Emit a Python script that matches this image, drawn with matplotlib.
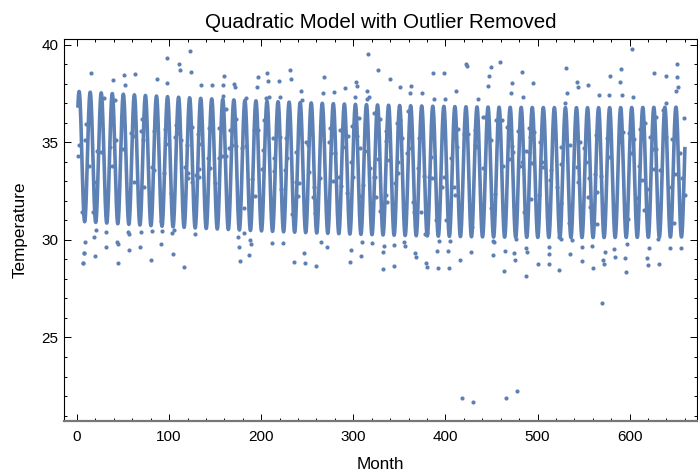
import numpy as np
import matplotlib
matplotlib.use('Agg')
import matplotlib.pyplot as plt
from matplotlib.ticker import MultipleLocator

plt.rcParams['font.family'] = ['Liberation Sans', 'DejaVu Sans']

BLUE = '#5e81b5'

# monthly observations that sit off the fitted curve
month = [
    1, 2, 5, 7, 7, 8, 8, 9, 9, 10, 13, 15, 17, 19, 20, 21, 21, 22, 26, 29,
    31, 32, 36, 38, 39, 41, 42, 43, 44, 45, 50, 51, 52, 55, 56, 56, 59, 62, 63, 63,
    68, 70, 70, 71, 72, 73, 80, 81, 81, 84, 84, 87, 91, 91, 92, 94, 96, 97, 98, 98,
    102, 103, 104, 105, 106, 108, 110, 111, 112, 113, 116, 117, 119, 120, 121, 123, 124, 125, 125, 128,
    129, 131, 132, 133, 133, 135, 142, 143, 144, 147, 150, 154, 154, 157, 158, 159, 160, 162, 162, 165,
    166, 168, 171, 172, 173, 173, 175, 176, 177, 179, 181, 181, 182, 184, 184, 187, 188, 189, 190, 192,
    193, 195, 196, 197, 201, 202, 203, 205, 206, 207, 209, 212, 213, 214,
    214, 219, 220, 220, 222, 224, 226, 227, 228, 231, 232, 233, 235, 236, 238, 238, 240, 241, 243, 244,
    247, 248, 249, 251, 252, 256, 257, 258, 260, 264, 265, 267, 268, 271, 274, 275, 276, 278, 278, 279,
    280, 285, 286, 287, 289, 289, 291, 293, 294, 296, 297, 298, 299, 300, 302, 303, 304, 304, 306, 307,
    307, 308, 309, 310, 315, 315, 315, 316, 317, 318, 320, 322, 323, 324, 325, 327, 327, 329,
    329, 332, 332, 333, 335, 336, 336, 337, 339, 340, 344, 344, 345, 347, 348, 349, 351, 351, 353, 355,
    356, 358, 359, 360, 362, 363, 365, 366, 367, 368, 370, 371, 373, 375, 377, 378, 379, 380, 380, 382,
    384, 385, 387, 388, 390, 391, 392, 393, 396, 398, 399, 400, 401, 403, 404, 405, 406, 409, 410, 412,
    413, 414, 416, 420, 422, 423, 425, 428, 428, 429, 432, 432, 433, 435, 441, 441,
    443, 446, 447, 449, 449, 450, 452, 452, 453, 454, 455, 459, 461, 463, 464, 465, 467, 469, 471, 472,
    472, 473, 474, 475, 476, 477, 479, 481, 483, 483, 484, 485, 487, 487, 488, 489, 491, 491, 492, 493,
    494, 495, 496, 501, 502, 503, 505, 506, 512, 512, 513, 514, 515, 521, 523, 523, 525, 525, 525, 526,
    530, 531, 532, 534, 535, 535, 537, 543, 543, 544, 544, 546, 547, 548, 548, 551, 553, 555, 555,
    556, 557, 559, 560, 562, 563, 565, 565, 567, 569, 571, 572, 573, 575, 578, 578, 579, 583, 584, 588,
    590, 591, 592, 593, 595, 595, 596, 597, 598, 599, 601, 603, 604, 605, 608, 610, 611, 613, 616, 617,
    619, 619, 620, 621, 622, 625, 626, 627, 629, 629, 631, 632, 633, 636, 639, 639, 640, 644, 645, 646,
    648, 649, 650, 651, 652, 653, 655, 656, 657, 659, 660,
    570, 418, 430, 466, 478,
]
temperature = [
    34.33, 34.87, 31.45, 28.84, 28.84, 29.35, 29.35, 29.92, 35.13, 35.95, 33.80, 38.58, 31.42, 30.16, 29.20, 32.96, 30.51, 34.58, 34.53, 37.27,
    30.43, 29.64, 34.75, 33.80, 38.21, 37.18, 35.13, 29.92, 28.84, 29.81, 34.67, 38.46, 37.92, 30.43, 30.31, 29.49, 35.47, 32.99, 38.50, 35.33,
    29.66, 35.61, 30.43, 36.21, 35.13, 32.73, 28.98, 33.73, 30.46, 33.59, 35.61, 38.26, 30.99, 29.80, 30.46, 33.42, 35.68, 34.91, 39.32, 38.07,
    32.43, 30.38, 29.30, 30.51, 35.27, 35.90, 35.47, 39.03, 38.72, 35.13, 28.60, 33.73, 34.87, 33.20, 33.42, 39.71, 38.60, 35.78, 32.96, 30.31,
    33.33, 35.44, 33.25, 34.91, 33.62, 37.92, 34.22, 35.73, 33.71, 37.92, 32.91, 34.22, 35.73, 34.31, 37.40, 37.92, 38.39, 36.70, 34.31, 34.70,
    35.64, 34.87, 38.00, 37.86, 34.84, 36.19, 30.14, 29.66, 28.94, 34.70, 31.66, 30.38, 35.64, 34.82, 37.27, 29.25, 30.00, 29.81, 33.13, 35.64,
    32.27, 37.83, 38.34, 35.64, 33.64, 34.62, 36.15, 37.27, 38.58, 38.15, 37.35, 29.83, 35.21, 33.54,
    34.19, 38.15, 37.33, 35.30, 32.62, 29.83, 33.59, 35.21, 34.19, 38.70, 38.24, 31.32, 32.05, 28.89, 34.50, 32.96, 32.26, 32.94, 37.64, 37.20,
    29.32, 28.84, 35.04, 34.87, 33.47, 32.22, 32.70, 31.40, 28.68, 33.20, 29.92, 37.56, 38.38, 29.66, 35.04, 35.76, 34.48, 35.81, 33.03, 37.59,
    34.48, 33.25, 35.64, 32.77, 34.75, 35.73, 37.80, 32.39, 35.33, 28.89, 29.49, 34.02, 35.85, 33.25, 37.35, 38.10, 37.90, 35.33, 36.27, 34.70,
    32.27, 29.18, 29.88, 32.82, 37.66, 37.21, 34.56, 39.52, 37.33, 33.68, 29.83, 33.25, 36.50, 33.21, 32.22, 38.72, 34.14, 31.50,
    36.19, 29.37, 28.50, 29.69, 35.08, 35.59, 32.31, 31.93, 34.10, 38.24, 29.76, 28.69, 32.91, 35.98, 33.42, 34.02, 37.83, 36.15, 35.25, 29.88,
    29.69, 34.48, 36.62, 34.70, 37.52, 37.90, 31.97, 31.45, 29.32, 29.15, 33.68, 35.21, 31.45, 37.52, 33.30, 30.31, 28.84, 30.38, 28.63, 33.25,
    34.27, 33.16, 38.55, 37.21, 31.03, 29.45, 28.58, 29.95, 32.73, 33.25, 38.55, 37.21, 31.03, 29.44, 28.58, 29.95, 34.19, 32.70, 32.31, 37.64,
    34.79, 35.68, 28.98, 35.44, 39.01, 38.94, 35.44, 31.11, 29.37, 30.65, 35.64, 34.87, 34.79, 37.21, 33.68, 36.29,
    36.29, 37.90, 38.43, 38.86, 35.13, 31.62, 29.95, 29.23, 29.88, 32.36, 36.15, 39.11, 36.15, 33.80, 28.39, 29.44, 35.81, 34.14, 37.52, 38.07,
    34.82, 34.53, 31.74, 29.35, 28.98, 30.04, 35.61, 33.80, 38.63, 34.02, 37.33, 31.45, 34.58, 29.57, 28.15, 29.37, 35.73, 34.50, 35.30, 32.09,
    33.93, 38.04, 35.56, 28.77, 32.31, 35.04, 34.02, 33.76, 29.27, 28.77, 29.66, 33.08, 33.59, 32.74, 30.14, 28.46, 34.79, 31.88, 30.04, 33.90,
    37.04, 38.84, 37.56, 30.89, 34.87, 29.27, 30.00, 38.09, 33.76, 37.86, 32.99, 35.04, 31.45, 29.66, 28.94, 34.70, 34.02, 37.95, 32.22,
    33.16, 31.68, 29.69, 28.55, 33.38, 35.39, 32.48, 30.80, 37.44, 33.30, 28.98, 28.75, 29.37, 35.21, 37.44, 34.27, 38.43, 29.54, 29.15, 35.04,
    38.12, 38.75, 37.44, 35.52, 31.28, 29.06, 28.38, 29.78, 31.08, 35.47, 34.48, 39.78, 37.35, 35.18, 32.17, 33.80, 35.68, 33.08, 31.54, 35.98,
    32.62, 29.10, 28.72, 29.57, 35.27, 34.65, 33.64, 38.55, 34.67, 36.29, 30.04, 28.77, 33.59, 36.67, 38.43, 35.30, 37.04, 29.61, 32.70, 35.16,
    30.89, 33.37, 37.66, 38.33, 39.01, 37.86, 34.45, 29.61, 33.16, 36.24, 32.31,
    26.75, 21.91, 21.67, 21.88, 22.24,
]

# fitted model: quadratic trend plus a 12-month cycle
trend_coef = [34.29, -0.003032, 2.75e-6]
amplitude = 3.33
peak_month = 2.3
period = 12
first_month, last_month = 1, 660

t = np.linspace(first_month, last_month, 20000)
fit = (trend_coef[0] + trend_coef[1] * t + trend_coef[2] * t ** 2
       + amplitude * np.cos(2 * np.pi * (t - peak_month) / period))

fig = plt.figure(figsize=(6.98, 4.72), dpi=100)
ax = fig.add_axes([0.0921, 0.1081, 0.9065, 0.8087])

ax.plot(month, temperature, 'o', ms=3.0, color=BLUE, mec='none')
ax.plot(t, fit, color=BLUE, lw=2.6, solid_joinstyle='round')

ax.set_xlim(-13.8, 673.2)
ax.set_ylim(20.72, 40.29)
ax.xaxis.set_major_locator(MultipleLocator(100))
ax.xaxis.set_minor_locator(MultipleLocator(20))
ax.yaxis.set_major_locator(MultipleLocator(5))
ax.yaxis.set_minor_locator(MultipleLocator(1))
ax.tick_params(which='both', direction='in', top=True, right=True,
               width=0.7, labelsize=11)
ax.tick_params(which='major', length=5)
ax.tick_params(which='minor', length=2.5)
ax.tick_params(axis='x', pad=6.5)
ax.tick_params(axis='y', pad=4.3)

for side in ['top', 'left', 'right']:
    ax.spines[side].set_linewidth(0.8)
ax.spines['bottom'].set_color('#777777')
ax.spines['bottom'].set_linewidth(1.6)

ax.set_title('Quadratic Model with Outlier Removed', fontsize=14.8, pad=8)
ax.set_xlabel('Month', fontsize=12.3, labelpad=9)
ax.set_ylabel('Temperature', fontsize=12.3, labelpad=10)

fig.savefig('out.png', dpi=100)
